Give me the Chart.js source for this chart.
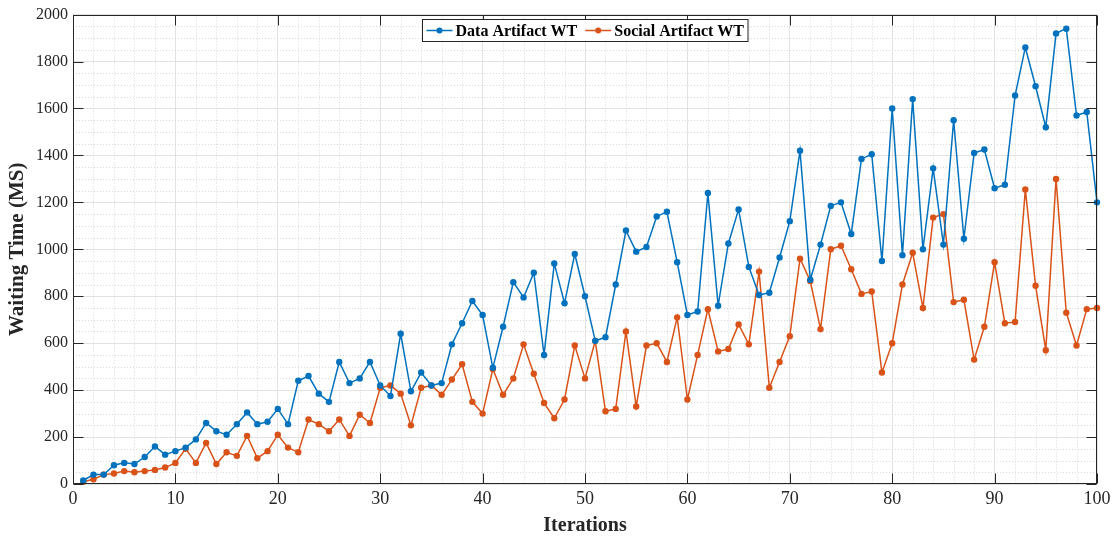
<!DOCTYPE html>
<html>
<head>
<meta charset="utf-8">
<script src="https://cdn.jsdelivr.net/npm/chart.js@4.4.1/dist/chart.umd.min.js"></script>
<style>
html,body{margin:0;padding:0;background:#fff;}
#wrap{width:1120px;height:540px;}
</style>
</head>
<body>
<div id="wrap"><canvas id="c" width="1120" height="540"></canvas></div>
<script>
const iterations = [1,2,3,4,5,6,7,8,9,10,11,12,13,14,15,16,17,18,19,20,21,22,23,24,25,26,27,28,29,30,31,32,33,34,35,36,37,38,39,40,41,42,43,44,45,46,47,48,49,50,51,52,53,54,55,56,57,58,59,60,61,62,63,64,65,66,67,68,69,70,71,72,73,74,75,76,77,78,79,80,81,82,83,84,85,86,87,88,89,90,91,92,93,94,95,96,97,98,99,100];

const dataArtifactWT = [15,40,40,80,90,85,115,160,125,140,155,190,260,225,210,255,305,255,265,320,255,440,460,385,350,520,430,450,520,420,375,640,395,475,420,430,595,685,780,720,495,670,860,795,900,550,940,770,980,800,610,625,850,1080,990,1010,1140,1160,945,720,735,1240,760,1025,1170,925,805,815,965,1120,1420,870,1020,1185,1200,1065,1385,1405,950,1600,975,1640,1000,1345,1020,1550,1045,1410,1425,1260,1275,1655,1860,1695,1520,1920,1940,1570,1585,1200];

const socialArtifactWT = [10,20,40,45,55,50,55,60,70,90,150,90,175,85,135,120,205,110,140,210,155,135,275,255,225,275,205,295,260,410,420,385,250,410,420,380,445,510,350,300,490,380,450,595,470,345,280,360,590,450,610,310,320,650,330,590,600,520,710,360,550,745,565,575,680,595,905,410,520,630,960,865,660,1000,1015,915,810,820,475,600,850,985,750,1135,1150,775,785,530,670,945,685,690,1255,845,570,1300,730,590,745,750];

const xTicks = [0,10,20,30,40,50,60,70,80,90,100];
const yTicks = [0,200,400,600,800,1000,1200,1400,1600,1800,2000];
const seriesNames = ['Data Artifact WT','Social Artifact WT'];
const seriesColors = ['#0072BD','#D95319'];

const FONT = "'Liberation Serif','Times New Roman',serif";
const AXIS_COLOR = '#262626';

const framePlugin = {
  id: 'matlabFrame',
  beforeDatasetsDraw(chart) {
    const {ctx, chartArea: a, scales: {x, y}} = chart;
    ctx.save();
    ctx.strokeStyle = '#d8d8d8';
    ctx.lineWidth = 1;
    ctx.setLineDash([1, 2]);
    for (let v = 2; v < 100; v += 2) {
      if (v % 10 === 0) continue;
      const px = Math.round(x.getPixelForValue(v)) + 0.5;
      ctx.beginPath(); ctx.moveTo(px, a.top); ctx.lineTo(px, a.bottom); ctx.stroke();
    }
    for (let v = 50; v < 2000; v += 50) {
      if (v % 200 === 0) continue;
      const py = Math.round(y.getPixelForValue(v)) + 0.5;
      ctx.beginPath(); ctx.moveTo(a.left, py); ctx.lineTo(a.right, py); ctx.stroke();
    }
    ctx.restore();
  },
  afterDraw(chart) {
    const {ctx, chartArea: a, scales: {x, y}} = chart;
    ctx.save();
    ctx.strokeStyle = AXIS_COLOR;
    ctx.lineWidth = 1;
    ctx.setLineDash([]);
    const L = Math.round(a.left) + 0.5, R = Math.round(a.right) - 0.5;
    const T = Math.round(a.top) + 0.5, B = Math.round(a.bottom) - 0.5;
    ctx.strokeRect(L, T, R - L, B - T);
    const tl = 10;
    ctx.beginPath();
    xTicks.forEach(v => {
      const px = Math.round(x.getPixelForValue(v)) + 0.5;
      ctx.moveTo(px, B); ctx.lineTo(px, B - tl);
      ctx.moveTo(px, T); ctx.lineTo(px, T + tl);
    });
    yTicks.forEach(v => {
      const py = Math.round(y.getPixelForValue(v)) + 0.5;
      ctx.moveTo(L, py); ctx.lineTo(L + tl, py);
      ctx.moveTo(R, py); ctx.lineTo(R - tl, py);
    });
    ctx.stroke();

    // legend box inside the axes, top centre
    ctx.font = "bold 16px " + FONT;
    const pad = 4, sample = 26, gap = 3, entryGap = 8;
    const widths = seriesNames.map(n => ctx.measureText(n).width);
    const total = pad + sample + gap + widths[0] + entryGap + sample + gap + widths[1] + pad;
    const cx = (a.left + a.right) / 2;
    const bx = Math.round(cx - total / 2) + 0.5;
    const by = 19.5, bh = 22;
    ctx.fillStyle = '#ffffff';
    ctx.fillRect(bx, by, total, bh);
    ctx.strokeStyle = AXIS_COLOR;
    ctx.lineWidth = 1;
    ctx.strokeRect(bx, by, total, bh);
    const cy = by + bh / 2;
    let cur = bx + pad;
    seriesNames.forEach((n, i) => {
      ctx.strokeStyle = seriesColors[i];
      ctx.lineWidth = 1.5;
      ctx.beginPath(); ctx.moveTo(cur, cy); ctx.lineTo(cur + sample, cy); ctx.stroke();
      ctx.fillStyle = seriesColors[i];
      ctx.beginPath(); ctx.arc(cur + sample / 2, cy, 3, 0, Math.PI * 2); ctx.fill();
      cur += sample + gap;
      ctx.fillStyle = '#000000';
      ctx.textBaseline = 'middle';
      ctx.textAlign = 'left';
      ctx.fillText(n, cur, cy + 1);
      cur += widths[i] + entryGap;
    });
    ctx.restore();
  }
};

const toPoints = arr => iterations.map((it, i) => ({x: it, y: arr[i]}));

new Chart(document.getElementById('c'), {
  type: 'line',
  data: {
    datasets: [
      {
        label: seriesNames[0],
        data: toPoints(dataArtifactWT),
        borderColor: seriesColors[0],
        backgroundColor: seriesColors[0],
        borderWidth: 1.5,
        pointRadius: 3.2,
        pointBorderWidth: 0,
        pointBackgroundColor: seriesColors[0],
        tension: 0,
        clip: false
      },
      {
        label: seriesNames[1],
        data: toPoints(socialArtifactWT),
        borderColor: seriesColors[1],
        backgroundColor: seriesColors[1],
        borderWidth: 1.5,
        pointRadius: 3.2,
        pointBorderWidth: 0,
        pointBackgroundColor: seriesColors[1],
        tension: 0,
        clip: false
      }
    ]
  },
  options: {
    responsive: false,
    animation: false,
    events: [],
    layout: {padding: {left: 0, right: 23, top: 13, bottom: 0}},
    plugins: {legend: {display: false}, tooltip: {enabled: false}},
    scales: {
      x: {
        type: 'linear',
        min: 0, max: 100,
        afterBuildTicks(s) { s.ticks = xTicks.map(v => ({value: v})); },
        ticks: {
          autoSkip: false, maxRotation: 0, padding: 4,
          color: AXIS_COLOR,
          font: {family: FONT, size: 18},
          callback: v => String(v)
        },
        grid: {color: '#e2e2e2', lineWidth: 1, drawTicks: false},
        border: {display: false},
        title: {
          display: true, text: 'Iterations', color: AXIS_COLOR,
          font: {family: FONT, size: 20, weight: 'bold'},
          padding: {top: 0, bottom: 2}
        },
        afterFit(s) { s.height = 56; }
      },
      y: {
        type: 'linear',
        min: 0, max: 2000,
        afterBuildTicks(s) { s.ticks = yTicks.map(v => ({value: v})); },
        ticks: {
          autoSkip: false, padding: 5,
          color: AXIS_COLOR,
          font: {family: FONT, size: 16},
          callback: v => String(v)
        },
        grid: {color: '#e2e2e2', lineWidth: 1, drawTicks: false},
        border: {display: false},
        title: {
          display: true, text: 'Waiting Time (MS)', color: AXIS_COLOR,
          font: {family: FONT, size: 21, weight: 'bold'},
          padding: {top: 5, bottom: 0}
        },
        afterFit(s) { s.width = 73; }
      }
    }
  },
  plugins: [framePlugin]
});
</script>
</body>
</html>
